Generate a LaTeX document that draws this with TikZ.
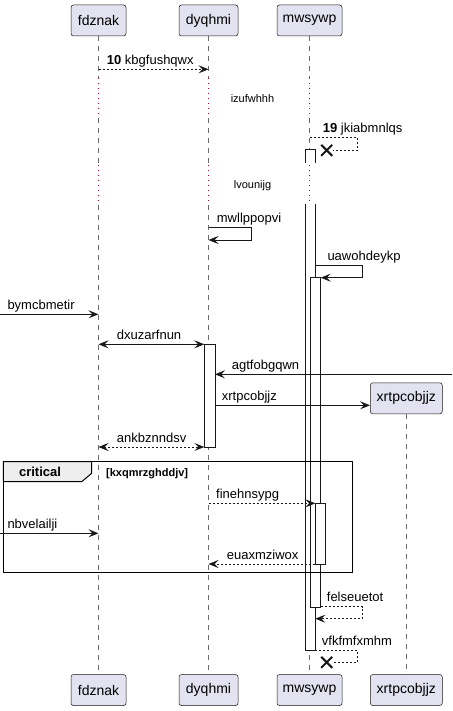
\documentclass[tikz,border=0pt]{standalone}
\usepackage{fontspec}
\setmainfont{Liberation Sans}
\usetikzlibrary{arrows.meta}
\definecolor{partfill}{HTML}{E2E2F0}
\definecolor{ink}{HTML}{181818}
\definecolor{delayred}{HTML}{A80036}
\definecolor{tabfill}{HTML}{EEEEEE}
\tikzset{
  participant/.style={draw=ink, line width=0.5pt, fill=partfill, rounded corners=2.5pt,
    minimum height=31pt, inner sep=0pt, font=\fontsize{14}{16}\selectfont},
  lifeline/.style={draw=ink!65, line width=0.6pt, dash pattern=on 5pt off 5pt},
  delayline/.style={draw=delayred, line width=1.5pt, dash pattern=on 1.5pt off 3.5pt},
  activation/.style={draw=ink, line width=1pt, fill=white},
  tip/.tip={Stealth[length=10pt,width=8pt,inset=4pt]},
  msg/.style={draw=ink, line width=0.9pt, -tip},
  bimsg/.style={draw=ink, line width=0.9pt, tip-tip},
  reply/.style={msg, dash pattern=on 2pt off 2pt},
  plain/.style={draw=ink, line width=0.9pt, dash pattern=on 2pt off 2pt},
  lbl/.style={anchor=base west, inner sep=0pt, font=\fontsize{13}{15}\selectfont},
  delaytext/.style={inner sep=0pt, font=\fontsize{11}{13}\selectfont},
  destroy/.style={draw=ink, line width=2pt},
  frameline/.style={draw=black, line width=1.5pt},
}
\begin{document}
\begin{tikzpicture}[x=1pt, y=-1pt]
\useasboundingbox (0,0) rectangle (452,711);

% participants, top and bottom
\node[participant, minimum width=55pt] (fdT) at (98.5,20.5) {fdznak};
\node[participant, minimum width=59pt] (dyT) at (208.5,20.5) {dyqhmi};
\node[participant, minimum width=65pt] (mwT) at (309.5,20.5) {mwsywp};
\node[participant, minimum width=55pt] (fdB) at (98.5,690) {fdznak};
\node[participant, minimum width=59pt] (dyB) at (208.5,690) {dyqhmi};
\node[participant, minimum width=65pt] (mwB) at (309.5,690) {mwsywp};
\node[participant, minimum width=72pt] (xrB) at (406.3,690) {xrtpcobjjz};
\node[participant, minimum width=72pt] (xrT) at (406.3,398.3) {xrtpcobjjz};

% lifelines with the two delays drawn dotted
\foreach \p/\q in {fdT/fdB, dyT/dyB, mwT/mwB}{
  \draw[lifeline] (\p.south) -- (\p.south |- 0,78);
  \draw[delayline] (\p.south |- 0,78) -- (\p.south |- 0,118);
  \draw[lifeline] (\p.south |- 0,118) -- (\p.south |- 0,163);
  \draw[delayline] (\p.south |- 0,165) -- (\p.south |- 0,205);
  \draw[lifeline] (\p.south |- 0,205) -- (\q.north);
}
\draw[lifeline] (xrT.south) -- (xrB.north);

\node[delaytext] (d1) at (252.5,99) {izufwhhh};
\node[delaytext] (d2) at (252.5,186) {lvounijg};

% activations
\filldraw[activation] (305.7,163) -- (305.7,150) -- (315.3,150) -- (315.3,163);
\filldraw[activation] (305.7,204) -- (305.7,650) -- (315.3,650) -- (315.3,204);
\filldraw[activation] (310.3,277.7) rectangle (320.7,607.3);
\filldraw[activation] (315.3,503.3) rectangle (325.7,564.3);
\filldraw[activation] (204.3,344.3) rectangle (215,447.3);

% critical fragment
\draw[frameline] (3.3,461.7) rectangle (352.3,572.3);
\filldraw[draw=black, line width=1pt, fill=tabfill]
  (3.3,461.7) -- (91.7,461.7) -- (91.7,473.3) -- (81.7,481.7) -- (3.3,481.7) -- cycle;
\node[anchor=base, inner sep=0pt, font=\bfseries\fontsize{13}{15}\selectfont] (ftab) at (40,476.7) {critical};
\node[anchor=base west, inner sep=0pt, font=\bfseries\fontsize{11}{13}\selectfont] (fguard) at (106,476.2) {[kxqmrzghddjv]};

% message end points
\coordinate (a1) at (98.5,69.3);   \coordinate (b1) at (208.5,69.3);
\coordinate (a2) at (309.5,137.7); \coordinate (c2) at (357.3,150.3); \coordinate (x2) at (326.7,150.3);
\coordinate (a3) at (208.5,227.3); \coordinate (c3) at (251,240);
\coordinate (a4) at (315.3,265.7); \coordinate (c4) at (362.3,277.7); \coordinate (b4) at (320.7,277.7);
\coordinate (a5) at (0,314.3);     \coordinate (b5) at (98.5,314.3);
\coordinate (a6) at (98.5,344.3);  \coordinate (b6) at (204.3,344.3);
\coordinate (a7) at (452,374.3);   \coordinate (b7) at (215,374.3);
\coordinate (a8) at (215,405.3);
\coordinate (a9) at (98.5,447);    \coordinate (b9) at (204.3,447);
\coordinate (a10) at (208.5,503.3); \coordinate (b10) at (315.3,503.3);
\coordinate (a11) at (0,533.3);    \coordinate (b11) at (98.5,533.3);
\coordinate (a12) at (315.3,564);  \coordinate (b12) at (208.5,564);
\coordinate (a13) at (320.7,606.7); \coordinate (c13) at (362.3,618.7); \coordinate (b13) at (315.3,618.7);
\coordinate (a14) at (315.3,650);  \coordinate (c14) at (357.3,662.3); \coordinate (x14) at (326.7,662.3);

% messages
\draw[reply] (a1) -- (b1);
\node[lbl] (l1) at (106.7,64.3) {\textbf{10} kbgfushqwx};

\draw[plain] (a2) -| (c2) -- ([xshift=6pt]x2);
\draw[destroy] ([shift={(-5.5,-5.5)}]x2) -- ([shift={(5.5,5.5)}]x2)
               ([shift={(-5.5,5.5)}]x2) -- ([shift={(5.5,-5.5)}]x2);
\node[lbl] (l2) at (322.7,132.7) {\textbf{19} jkiabmnlqs};

\draw[msg] (a3) -| (c3) -- (a3 |- c3);
\node[lbl] (l3) at (216.7,222.3) {mwllppopvi};

\draw[msg] (a4) -| (c4) -- (b4);
\node[lbl] (l4) at (327.3,260.7) {uawohdeykp};

\draw[msg] (a5) -- (b5);
\node[lbl] (l5) at (7.3,309.3) {bymcbmetir};

\draw[bimsg] (a6) -- (b6);
\node[lbl] (l6) at (116.7,339.3) {dxuzarfnun};

\draw[msg] (a7) -- (b7);
\node[lbl] (l7) at (231.7,369.3) {agtfobgqwn};

\draw[msg] (a8) -- (xrT.west |- a8);
\node[lbl] (l8) at (221.7,400.3) {xrtpcobjjz};

\draw[bimsg, dash pattern=on 2pt off 2pt] (a9) -- (b9);
\node[lbl] (l9) at (116.7,442) {ankbznndsv};

\draw[reply] (a10) -- (b10);
\node[lbl] (l10) at (216,498.3) {finehnsypg};

\draw[msg] (a11) -- (b11);
\node[lbl] (l11) at (7.3,528.3) {nbvelailji};

\draw[reply] (a12) -- (b12);
\node[lbl] (l12) at (226.7,559) {euaxmziwox};

\draw[reply] (a13) -| (c13) -- (b13);
\node[lbl] (l13) at (326.7,601.7) {felseuetot};

\draw[plain] (a14) -| (c14) -- ([xshift=6pt]x14);
\draw[destroy] ([shift={(-5.5,-5.5)}]x14) -- ([shift={(5.5,5.5)}]x14)
               ([shift={(-5.5,5.5)}]x14) -- ([shift={(5.5,-5.5)}]x14);
\node[lbl] (l14) at (321.7,645) {vfkfmfxmhm};
\end{tikzpicture}
\end{document}
